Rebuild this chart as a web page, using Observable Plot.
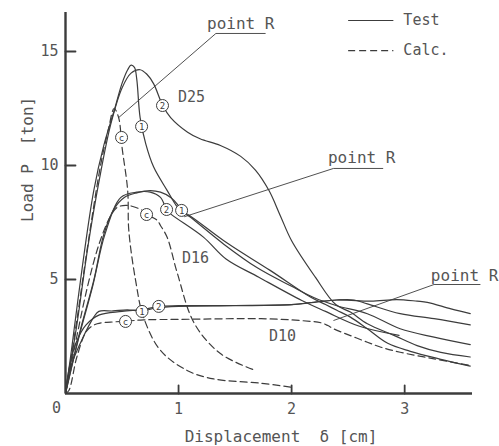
<!DOCTYPE html>
<html>
<head>
<meta charset="utf-8">
<script src="https://cdn.jsdelivr.net/npm/d3@7"></script>
<script src="https://cdn.jsdelivr.net/npm/@observablehq/plot@0.6"></script>
<style>
  html, body { margin: 0; padding: 0; background: #fff; }
  #chart { width: 499px; height: 446px; }
</style>
</head>
<body>
<div id="chart"></div>
<script>
// ---- tick labels ----
const xTicks = [1, 2, 3];
const yTicks = [5, 10, 15];

// ---- D25 ----
const d25Test1X = [0, 0.05, 0.15, 0.25, 0.34, 0.43, 0.50, 0.55, 0.58, 0.61, 0.63, 0.66, 0.71, 0.78, 0.90, 0.99, 1.03, 1.10, 1.43, 1.81, 2.17, 2.30, 2.40, 2.52, 2.67, 2.85, 3.05, 3.32, 3.58];
const d25Test1Y = [0, 1.8, 5.6, 8.9, 10.9, 12.4, 13.6, 14.2, 14.4, 14.3, 13.8, 12.1, 10.95, 9.93, 8.9, 8.17, 8.0, 7.8, 6.6, 5.4, 4.22, 3.9, 3.65, 3.35, 2.84, 2.2, 1.85, 1.5, 1.2];
const d25Test2X = [0, 0.1, 0.2, 0.3, 0.4, 0.5, 0.58, 0.66, 0.72, 0.78, 0.86, 0.93, 1.08, 1.19, 1.37, 1.55, 1.68, 1.80, 1.90, 2.00, 2.21, 2.39, 2.52, 2.67, 2.91, 3.11, 3.32, 3.58];
const d25Test2Y = [0, 3.0, 6.5, 9.4, 11.8, 13.4, 14.05, 14.2, 14.0, 13.58, 12.63, 12.1, 11.46, 11.17, 10.88, 10.4, 9.8, 8.9, 7.8, 6.7, 5.1, 3.9, 3.57, 3.06, 2.54, 2.1, 1.8, 1.6];
const d25CalcX = [0, 0.1, 0.2, 0.31, 0.38, 0.43, 0.47, 0.50, 0.55, 0.56, 0.62, 0.69, 0.84, 1.08, 1.31, 1.73, 1.99];
const d25CalcY = [0, 3.2, 6.6, 10.0, 11.6, 12.5, 12.1, 10.8, 8.9, 7.15, 4.96, 3.35, 1.89, 1.0, 0.64, 0.45, 0.28];

// ---- D16 ----
const d16Test1X = [0, 0.13, 0.25, 0.34, 0.43, 0.52, 0.63, 0.75, 0.84, 0.93, 0.99, 1.03, 1.10, 1.40, 1.70, 2.00, 2.20, 2.40, 2.67, 2.96, 3.26, 3.58];
const d16Test1Y = [0, 2.76, 4.96, 7.0, 8.1, 8.6, 8.8, 8.9, 8.83, 8.6, 8.3, 8.0, 7.75, 6.55, 5.5, 4.7, 4.2, 3.85, 3.5, 2.84, 2.47, 2.14];
const d16Test2X = [0, 0.12, 0.24, 0.35, 0.49, 0.63, 0.75, 0.84, 0.894, 0.93, 1.22, 1.42, 1.71, 2.09, 2.30, 2.60, 2.95];
const d16Test2Y = [0, 2.5, 4.7, 7.0, 8.6, 8.83, 8.83, 8.6, 8.07, 7.88, 6.86, 5.9, 5.1, 4.08, 3.6, 2.95, 2.55];
const d16CalcX = [0, 0.1, 0.2, 0.3, 0.4, 0.46, 0.55, 0.68, 0.72, 0.81, 0.84, 0.90, 0.99, 1.14, 1.37, 1.66];
const d16CalcY = [0, 2.5, 4.8, 6.6, 7.8, 8.17, 8.25, 8.03, 7.85, 7.6, 7.37, 6.84, 5.26, 3.07, 1.75, 1.05];

// ---- D10 ----
const d10Test1X = [0, 0.044, 0.25, 0.295, 0.42, 0.546, 0.677, 0.80, 1.0, 1.5, 2.0, 2.4, 2.7, 2.93, 3.11, 3.2, 3.41, 3.58];
const d10Test1Y = [0, 1.15, 3.35, 3.6, 3.62, 3.67, 3.62, 3.75, 3.82, 3.85, 3.9, 4.1, 4.05, 4.12, 4.05, 4.0, 3.71, 3.5];
const d10Test2X = [0, 0.04, 0.1, 0.18, 0.3, 0.5, 0.7, 0.825, 1.0, 1.5, 2.0, 2.2, 2.4, 2.55, 2.67, 2.96, 3.26, 3.58];
const d10Test2Y = [0, 1.3, 2.3, 3.0, 3.45, 3.6, 3.7, 3.82, 3.85, 3.86, 3.9, 4.0, 4.1, 4.1, 3.93, 3.5, 3.28, 3.01];
const d10CalcX = [0, 0.03, 0.10, 0.19, 0.28, 0.40, 0.53, 0.69, 1.0, 1.73, 2.08, 2.26, 2.32, 2.37, 2.52, 2.67, 2.79, 2.96, 3.26, 3.58];
const d10CalcY = [0, 0.13, 1.59, 2.76, 3.06, 3.13, 3.17, 3.23, 3.25, 3.28, 3.2, 3.1, 2.98, 2.84, 2.54, 2.25, 2.03, 1.81, 1.52, 1.23];

// ---- circled markers ----
const markerLabels = ["c", "1", "2", "c", "2", "1", "c", "1", "2"];
const markerX = [0.496, 0.673, 0.858, 0.717, 0.894, 1.027, 0.531, 0.677, 0.825];
const markerY = [11.23, 11.71, 12.63, 7.85, 8.07, 8.03, 3.16, 3.60, 3.82];

// ---- series names ----
const seriesNames = ["D25", "D16", "D10"];
const seriesLabelX = [1.115, 1.15, 1.92];
const seriesLabelY = [12.98, 5.92, 2.5];

// ---- "point R" annotations ----
const pointRText = ["point R", "point R", "point R"];
const pointRTextX = [1.55, 2.62, 3.53];
const pointRTextY = [16.23, 10.35, 5.18];
const pointRLineX1 = [1.33, 2.37, 3.26];
const pointRLineX2 = [1.77, 2.81, 3.67];
const pointRLineY = [15.79, 9.87, 4.78];
const pointRTargetX = [0.47, 1.05, 2.37];
const pointRTargetY = [12.1, 7.75, 3.2];

// ---- legend ----
const legendLabels = ["Test", "Calc."];
const legendX1 = [2.5, 2.5];
const legendX2 = [2.9, 2.9];
const legendY = [16.36, 15.04];

// build tables
const curves = [
  {name: "D25 test 1", type: "test", xs: d25Test1X, ys: d25Test1Y},
  {name: "D25 test 2", type: "test", xs: d25Test2X, ys: d25Test2Y},
  {name: "D25 calc", type: "calc", xs: d25CalcX, ys: d25CalcY},
  {name: "D16 test 1", type: "test", xs: d16Test1X, ys: d16Test1Y},
  {name: "D16 test 2", type: "test", xs: d16Test2X, ys: d16Test2Y},
  {name: "D16 calc", type: "calc", xs: d16CalcX, ys: d16CalcY},
  {name: "D10 test 1", type: "test", xs: d10Test1X, ys: d10Test1Y},
  {name: "D10 test 2", type: "test", xs: d10Test2X, ys: d10Test2Y},
  {name: "D10 calc", type: "calc", xs: d10CalcX, ys: d10CalcY}
];
const rows = curves.flatMap(c => c.xs.map((x, i) => ({series: c.name, type: c.type, x, y: c.ys[i]})));
const tests = rows.filter(r => r.type === "test");
const calcs = rows.filter(r => r.type === "calc");
const markers = markerLabels.map((l, i) => ({label: l, x: markerX[i], y: markerY[i]}));
const names = seriesNames.map((n, i) => ({name: n, x: seriesLabelX[i], y: seriesLabelY[i]}));
const pr = pointRText.map((t, i) => ({t, x: pointRTextX[i], y: pointRTextY[i], x1: pointRLineX1[i], x2: pointRLineX2[i], ly: pointRLineY[i], tx: pointRTargetX[i], ty: pointRTargetY[i]}));
const legend = legendLabels.map((l, i) => ({l, x1: legendX1[i], x2: legendX2[i], y: legendY[i], dash: i === 1}));

const ink = "#3c3c3c";
const textInk = "#555";
const font = "DejaVu Sans Mono";
// inward tick: a plain line drawn "up" from the anchor, rotated by the vector mark
const tickShape = {draw(context, l) { context.moveTo(0, 0); context.lineTo(0, -l); }};

const chart = Plot.plot({
  width: 499,
  height: 446,
  marginLeft: 65,
  marginRight: 27,
  marginTop: 12,
  marginBottom: 53,
  style: {fontFamily: font, fontSize: "15px", color: textInk, background: "white", overflow: "visible"},
  x: {domain: [0, 3.6], label: null},
  y: {domain: [0, 16.71], label: null},
  marks: [
    Plot.axisX({ticks: xTicks, tickSize: 0, tickPadding: 10, fontSize: 15, fill: textInk, label: null, tickFormat: d => String(d)}),
    Plot.axisY({ticks: yTicks, tickSize: 0, tickPadding: 7, fontSize: 15, fill: textInk, label: null, tickFormat: d => String(d)}),
    Plot.vector(xTicks, {x: d => d, y: 0, length: 8, rotate: 0, anchor: "start", shape: tickShape, stroke: ink, strokeWidth: 1.8}),
    Plot.vector(yTicks, {x: 0, y: d => d, length: 10, rotate: 90, anchor: "start", shape: tickShape, stroke: ink, strokeWidth: 1.8}),
    Plot.ruleX([0], {stroke: ink, strokeWidth: 2.4}),
    Plot.ruleY([0], {stroke: ink, strokeWidth: 2.4}),
    Plot.text(["0"], {x: 0, y: 0, dx: -9, dy: 15, fontSize: 15, fill: textInk}),
    Plot.line(tests, {x: "x", y: "y", z: "series", stroke: ink, strokeWidth: 1.2, curve: "catmull-rom"}),
    Plot.line(calcs, {x: "x", y: "y", z: "series", stroke: ink, strokeWidth: 1.2, strokeDasharray: "7,4", curve: "catmull-rom"}),
    Plot.dot(markers, {x: "x", y: "y", r: 6, fill: "white", stroke: ink, strokeWidth: 1}),
    Plot.text(markers, {x: "x", y: "y", text: "label", fontSize: 9, fill: ink, dy: 0.5}),
    Plot.text(names, {x: "x", y: "y", text: "name", fontSize: 15, fill: textInk}),
    Plot.text(pr, {x: "x", y: "y", text: "t", fontSize: 16, fill: textInk}),
    Plot.link(pr, {x1: "x1", x2: "x2", y1: "ly", y2: "ly", stroke: ink, strokeWidth: 0.9}),
    Plot.link(pr, {x1: "x1", y1: "ly", x2: "tx", y2: "ty", stroke: ink, strokeWidth: 0.9}),
    Plot.link(legend.filter(d => !d.dash), {x1: "x1", x2: "x2", y1: "y", y2: "y", stroke: ink, strokeWidth: 1.2}),
    Plot.link(legend.filter(d => d.dash), {x1: "x1", x2: "x2", y1: "y", y2: "y", stroke: ink, strokeWidth: 1.2, strokeDasharray: "7,4"}),
    Plot.text(legend, {x: "x2", y: "y", text: "l", dx: 10, textAnchor: "start", fontSize: 15, fill: textInk}),
    Plot.text(["Load P\u00a0\u00a0[ton]"], {frameAnchor: "left", rotate: -90, dx: -38, dy: 19, fontSize: 16, fill: textInk}),
    Plot.text(["Displacement\u00a0\u00a0δ [cm]"], {frameAnchor: "bottom", dx: 12, dy: 48, fontSize: 16, fill: textInk})
  ]
});
document.getElementById("chart").appendChild(chart);
</script>
</body>
</html>
